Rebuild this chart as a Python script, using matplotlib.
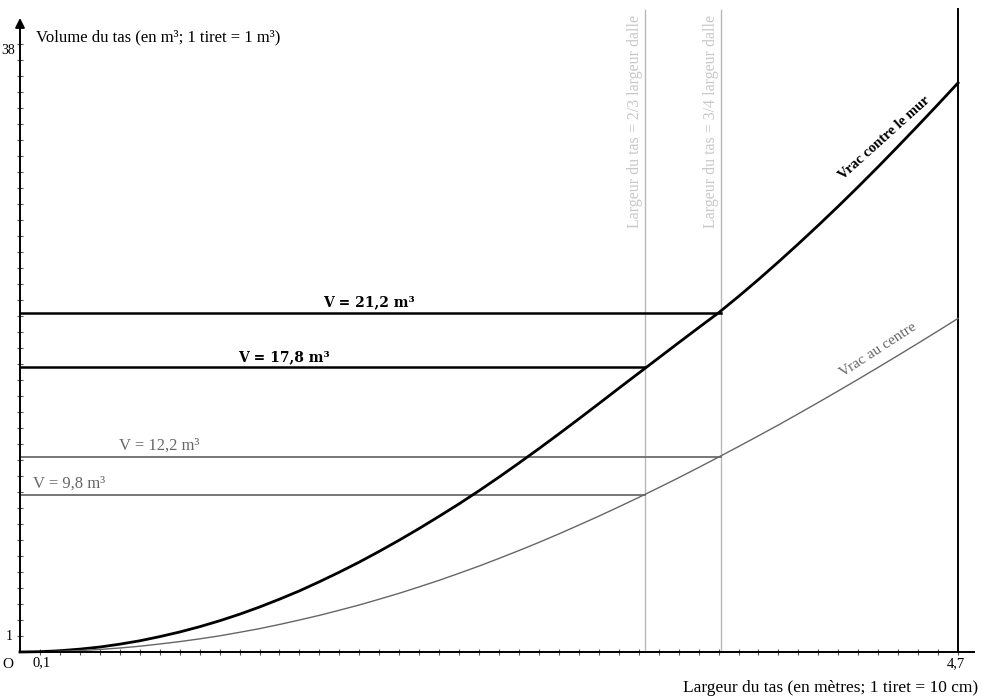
import numpy as np
import matplotlib.pyplot as plt

plt.rcParams['font.family'] = ['Liberation Serif', 'DejaVu Serif']

# largeur du tas (m) et volume (m3), un point par tiret
x_m = [0.0, 0.1, 0.2, 0.3, 0.4, 0.5, 0.6, 0.7, 0.8, 0.9, 1.0, 1.1, 1.2, 1.3,
       1.4, 1.5, 1.6, 1.7, 1.8, 1.9, 2.0, 2.1, 2.2, 2.3, 2.4, 2.5, 2.6, 2.7,
       2.8, 2.9, 3.0, 3.1, 3.2, 3.3, 3.4, 3.5, 3.6, 3.7, 3.8, 3.9, 4.0, 4.1,
       4.2, 4.3, 4.4, 4.5, 4.6, 4.7]
v_mur = [0, 0.02, 0.08, 0.18, 0.31, 0.49, 0.70, 0.96, 1.25, 1.58, 1.95, 2.36,
         2.81, 3.30, 3.82, 4.39, 4.99, 5.62, 6.29, 6.99, 7.72, 8.48, 9.26,
         10.08, 10.93, 11.81, 12.71, 13.63, 14.57, 15.52, 16.48, 17.43, 18.38,
         19.33, 20.27, 21.20, 22.22, 23.28, 24.38, 25.51, 26.67, 27.86, 29.08,
         30.33, 31.61, 32.91, 34.23, 35.57]
v_centre = [0, 0.01, 0.04, 0.09, 0.16, 0.25, 0.36, 0.50, 0.65, 0.82, 1.01,
            1.23, 1.46, 1.72, 2.00, 2.29, 2.61, 2.94, 3.30, 3.67, 4.07, 4.48,
            4.92, 5.37, 5.85, 6.34, 6.85, 7.38, 7.93, 8.49, 9.07, 9.66, 10.27,
            10.89, 11.53, 12.18, 12.84, 13.51, 14.19, 14.89, 15.60, 16.32,
            17.05, 17.79, 18.54, 19.30, 20.07, 20.85]

niveaux = [21.2, 17.8, 12.2, 9.8]
niveaux_fin = [3.51, 3.13, 3.51, 3.13]
niveaux_txt = ['V = 21,2 m³', 'V = 17,8 m³', 'V = 12,2 m³', 'V = 9,8 m³']

largeurs = [3.13, 3.51]
largeurs_txt = ['Largeur du tas = 2/3 largeur dalle',
                'Largeur du tas = 3/4 largeur dalle']

fig = plt.figure(figsize=(9.83, 6.98), dpi=100)
ax = fig.add_axes([0, 0, 1, 1])
ax.set_xlim(-0.1002, 4.825)
ax.set_ylim(-2.875, 40.75)

# axes
for s in ['top', 'right']:
    ax.spines[s].set_visible(False)
ax.spines['left'].set_position(('data', 0))
ax.spines['bottom'].set_position(('data', 0))
ax.spines['left'].set_bounds(0, 39.0)
ax.spines['bottom'].set_bounds(0, 4.78)
ax.spines['left'].set_linewidth(1.4)
ax.spines['bottom'].set_linewidth(1.4)
ax.set_xticks(np.arange(1, 48) / 10)
ax.set_yticks(np.arange(1, 39))
ax.set_xticklabels([])
ax.set_yticklabels([])
ax.tick_params(direction='inout', length=5, width=0.8, color='#555555')
ax.annotate('', xy=(4.83, 0), xytext=(4.74, 0),
            arrowprops=dict(arrowstyle='-|>', color='black', lw=1.4,
                            mutation_scale=14))
ax.annotate('', xy=(0, 39.8), xytext=(0, 38.8),
            arrowprops=dict(arrowstyle='-|>', color='black', lw=1.4,
                            mutation_scale=14))

# verticales
ax.plot([4.7, 4.7], [0, 40.2], color='black', lw=1.4)
for xv, t in zip(largeurs, largeurs_txt):
    ax.plot([xv, xv], [0, 40.1], color='#b8b8b8', lw=1.0)
    ax.text(xv - 0.05, 39.8, t, rotation=90, ha='center', va='top',
            fontsize=11.5, color='#c8c8c8')

# niveaux
for i, (v, xf, t) in enumerate(zip(niveaux, niveaux_fin, niveaux_txt)):
    if i < 2:
        ax.plot([0, xf], [v, v], color='black', lw=1.8)
        xt = [1.75, 1.32][i]
        ax.text(xt, v + 0.2, t, ha='center', va='bottom', fontsize=10,
                fontweight='bold', family='DejaVu Serif')
    else:
        ax.plot([0, xf], [v, v], color='#777777', lw=1.4)
        if i == 2:
            ax.text(0.7, v + 0.2, t, ha='center', va='bottom', fontsize=12,
                    color='#666666')
        else:
            ax.text(0.065, v + 0.2, t, ha='left', va='bottom', fontsize=12,
                    color='#666666')

# courbes
ax.plot(x_m, v_mur, color='black', lw=2.0)
ax.plot(x_m, v_centre, color='#666666', lw=1.0)
ax.text(4.33, 32.1, 'Vrac contre le mur', rotation=42, ha='center',
        va='center', fontsize=10.5, fontweight='bold')
ax.text(4.3, 18.9, 'Vrac au centre', rotation=33, ha='center',
        va='center', fontsize=11, color='#666666')

# textes des axes
ax.text(0.08, 38.4, 'Volume du tas (en m³; 1 tiret = 1 m³)', ha='left',
        va='center', fontsize=12)
ax.text(4.8, -2.25, 'Largeur du tas (en mètres; 1 tiret = 10 cm)', ha='right',
        va='center', fontsize=12.5)
ax.text(0.11, -0.25, '0,1', ha='center', va='top', fontsize=10.5)
ax.text(4.69, -0.3, '4,7', ha='center', va='top', fontsize=10.5)
ax.text(-0.035, 1.0, '1', ha='right', va='center', fontsize=10)
ax.text(-0.025, 37.6, '38', ha='right', va='center', fontsize=10)
ax.text(-0.035, -0.4, 'O', ha='right', va='top', fontsize=11)

fig.savefig('out.png', dpi=100)
